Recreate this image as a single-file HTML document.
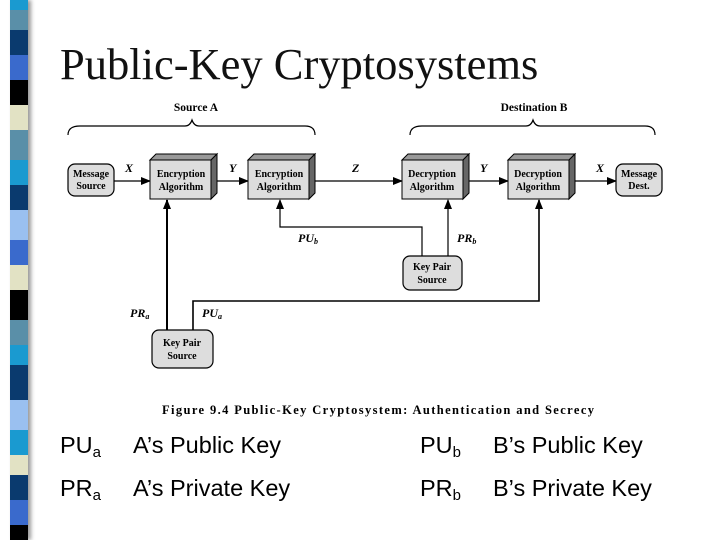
<!DOCTYPE html>
<html><head><meta charset="utf-8"><style>
body{margin:0;width:720px;height:540px;background:#fff;overflow:hidden;position:relative;font-family:"Liberation Sans",sans-serif}
.strip{position:absolute;left:10px;top:0;width:18px;height:540px;box-shadow:3px 0 4px #999}
.strip div{width:18px}
.t{position:absolute;font-size:23.5px;color:#000;white-space:nowrap}
.t sub{font-size:15px;vertical-align:-4px}
</style></head><body>
<div class="strip">
<div style="height:10px;background:#1a9ad0"></div>
<div style="height:20px;background:#5a8fa8"></div>
<div style="height:25px;background:#0a3a6e"></div>
<div style="height:25px;background:#3a6acc"></div>
<div style="height:25px;background:#000"></div>
<div style="height:25px;background:#e2e2c4"></div>
<div style="height:30px;background:#5a8fa8"></div>
<div style="height:25px;background:#1a9ad0"></div>
<div style="height:25px;background:#0a3a6e"></div>
<div style="height:30px;background:#9ac0f0"></div>
<div style="height:25px;background:#3a6acc"></div>
<div style="height:25px;background:#e2e2c4"></div>
<div style="height:30px;background:#000"></div>
<div style="height:25px;background:#5a8fa8"></div>
<div style="height:20px;background:#1a9ad0"></div>
<div style="height:35px;background:#0a3a6e"></div>
<div style="height:30px;background:#9ac0f0"></div>
<div style="height:25px;background:#1a9ad0"></div>
<div style="height:20px;background:#e2e2c4"></div>
<div style="height:25px;background:#0a3a6e"></div>
<div style="height:25px;background:#3a6acc"></div>
<div style="height:15px;background:#000"></div>
</div>
<div style="position:absolute;left:60px;top:38px;font-family:'Liberation Serif',serif;font-size:44.5px;color:#111;white-space:nowrap">Public-Key Cryptosystems</div>
<svg width="720" height="540" style="position:absolute;left:0;top:0" font-family="Liberation Serif,serif">
<defs><marker id="a" markerWidth="10" markerHeight="8" refX="9" refY="4" orient="auto" markerUnits="userSpaceOnUse"><path d="M0,0L10,4L0,8z" fill="#000"/></marker></defs>
<g font-weight="bold" font-size="11.5" text-anchor="middle">
<text x="196" y="111">Source A</text><text x="534" y="111">Destination B</text>
</g>
<g fill="none" stroke="#000" stroke-width="1.2">
<path d="M68,135 Q68,126 80,126 L185,126 Q190,126 192,120 Q194,126 199,126 L305,126 Q315,126 315,135"/>
<path d="M410,135 Q410,126 422,126 L526,126 Q531,126 533,120 Q535,126 540,126 L645,126 Q655,126 655,135"/>
</g>
<g stroke="#000" stroke-width="1.2" fill="none">
<line x1="114" y1="181" x2="150" y2="181" marker-end="url(#a)"/>
<line x1="217" y1="181" x2="248" y2="181" marker-end="url(#a)"/>
<line x1="313" y1="181" x2="402" y2="181" marker-end="url(#a)"/>
<line x1="468" y1="181" x2="508" y2="181" marker-end="url(#a)"/>
<line x1="575" y1="181" x2="616" y2="181" marker-end="url(#a)"/>
<path d="M422,256 V227 H280 V200" marker-end="url(#a)"/>
<path d="M448,256 V200" marker-end="url(#a)"/>
<path d="M167,330 V200" stroke-width="2" marker-end="url(#a)"/>
<path d="M193,330 V301 H539 V200" stroke-width="1.6" marker-end="url(#a)"/>
</g>
<g stroke="#000" stroke-width="1.2">
<rect x="68" y="164" width="46" height="32" rx="7" fill="#ddd"/>
<rect x="616" y="164" width="46" height="32" rx="7" fill="#ddd"/>
<rect x="403" y="256" width="59" height="34" rx="7" fill="#ddd"/>
<rect x="152" y="330" width="61" height="38" rx="7" fill="#ddd"/>
</g>
<g stroke="#000" stroke-width="1">
<g transform="translate(150,0)"><path d="M0,160 L6,154 L67,154 L61,160z" fill="#999"/><path d="M61,160 L67,154 L67,193 L61,199z" fill="#666"/><rect x="0" y="160" width="61" height="39" fill="#ddd"/></g>
<g transform="translate(248,0)"><path d="M0,160 L6,154 L67,154 L61,160z" fill="#999"/><path d="M61,160 L67,154 L67,193 L61,199z" fill="#666"/><rect x="0" y="160" width="61" height="39" fill="#ddd"/></g>
<g transform="translate(402,0)"><path d="M0,160 L6,154 L67,154 L61,160z" fill="#999"/><path d="M61,160 L67,154 L67,193 L61,199z" fill="#666"/><rect x="0" y="160" width="61" height="39" fill="#ddd"/></g>
<g transform="translate(508,0)"><path d="M0,160 L6,154 L67,154 L61,160z" fill="#999"/><path d="M61,160 L67,154 L67,193 L61,199z" fill="#666"/><rect x="0" y="160" width="61" height="39" fill="#ddd"/></g>
</g>
<g font-weight="bold" font-size="10" text-anchor="middle">
<text x="91" y="177">Message</text><text x="91" y="189">Source</text>
<text x="639" y="177">Message</text><text x="639" y="189">Dest.</text>
<text x="181" y="177">Encryption</text><text x="181" y="190">Algorithm</text>
<text x="279" y="177">Encryption</text><text x="279" y="190">Algorithm</text>
<text x="432" y="177">Decryption</text><text x="432" y="190">Algorithm</text>
<text x="538" y="177">Decryption</text><text x="538" y="190">Algorithm</text>
<text x="432" y="270">Key Pair</text><text x="432" y="283">Source</text>
<text x="182" y="346">Key Pair</text><text x="182" y="359">Source</text>
</g>
<g font-weight="bold" font-style="italic" font-size="12">
<text x="125" y="172">X</text><text x="229" y="172">Y</text><text x="352" y="172">Z</text>
<text x="480" y="172">Y</text><text x="596" y="172">X</text>
<text x="298" y="242">PU<tspan font-size="8" dy="2">b</tspan></text>
<text x="457" y="242">PR<tspan font-size="8" dy="2">b</tspan></text>
<text x="130" y="317">PR<tspan font-size="8" dy="2">a</tspan></text>
<text x="202" y="317">PU<tspan font-size="8" dy="2">a</tspan></text>
</g>
<text x="162" y="414" font-weight="bold" font-size="12.5" textLength="432" lengthAdjust="spacing">Figure 9.4   Public-Key Cryptosystem: Authentication and Secrecy</text>
</svg>
<div class="t" style="left:60px;top:432px">PU<sub>a</sub></div>
<div class="t" style="left:133px;top:432px">A’s Public Key</div>
<div class="t" style="left:420px;top:432px">PU<sub>b</sub></div>
<div class="t" style="left:493px;top:432px">B’s Public Key</div>
<div class="t" style="left:60px;top:475px">PR<sub>a</sub></div>
<div class="t" style="left:133px;top:475px">A’s Private Key</div>
<div class="t" style="left:420px;top:475px">PR<sub>b</sub></div>
<div class="t" style="left:493px;top:475px">B’s Private Key</div>
</body></html>
